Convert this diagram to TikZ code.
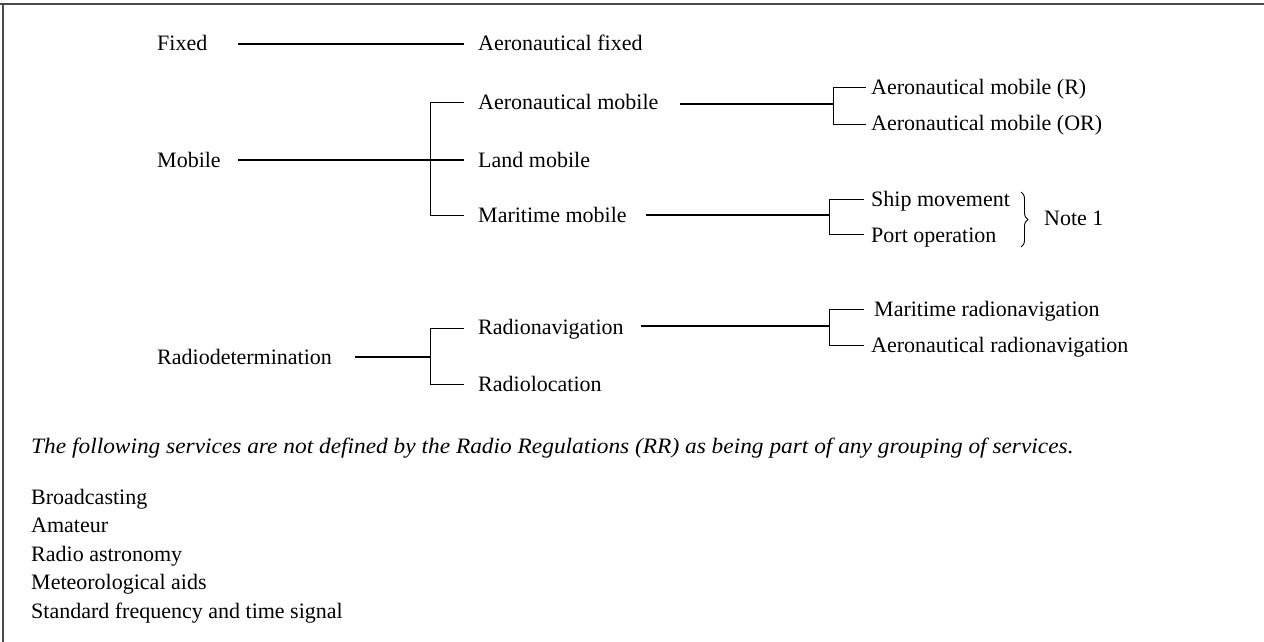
\documentclass[tikz,border=0pt]{standalone}
\usepackage{fontspec}
\setmainfont{Liberation Serif}
\newfontfamily\remarkfont{Liberation Serif}[FakeStretch=1.062]
\usetikzlibrary{decorations.pathreplacing}
\begin{document}
\begin{tikzpicture}[x=1pt,y=-1pt,
  lbl/.style={anchor=base west, inner sep=0pt, font=\fontsize{22}{26}\selectfont},
  mainline/.style={line width=1.6pt},
  brk/.style={line width=0.9pt},
  frameline/.style={line width=2pt, black!70}]
\useasboundingbox (0,0) rectangle (1264,642);
% frame
\coordinate (ftl) at (3,4);
\coordinate (ftr) at (1264,4);
\coordinate (fbl) at (3,642);
\draw[frameline] (0,4) -- (ftr);
\draw[frameline, line width=1.5pt] (ftl) -- (fbl);
% labels
\node[lbl] (fixed) at (157,51) {Fixed};
\node[lbl] (aerofixed) at (478,51) {Aeronautical fixed};
\node[lbl] (mobile) at (157,167) {Mobile};
\node[lbl] (aeromob) at (478,109) {Aeronautical mobile};
\node[lbl] (landmob) at (478,167) {Land mobile};
\node[lbl] (marmob) at (478,222) {Maritime mobile};
\node[lbl] (amr) at (871,94) {Aeronautical mobile (R)};
\node[lbl] (amor) at (871,130) {Aeronautical mobile (OR)};
\node[lbl] (ship) at (871,206) {Ship movement};
\node[lbl] (port) at (871,242) {Port operation};
\node[lbl] (note) at (1044,225) {Note 1};
\node[lbl] (radiodet) at (157,364) {Radiodetermination};
\node[lbl] (radionav) at (478,334) {Radionavigation};
\node[lbl] (radioloc) at (478,391) {Radiolocation};
\node[lbl] (marrn) at (874,316) {Maritime radionavigation};
\node[lbl] (aerorn) at (871,352) {Aeronautical radionavigation};
\node[lbl, font=\fontsize{22}{26}\remarkfont\itshape] (remark) at (31,453) {The following services are not defined by the Radio Regulations (RR) as being part of any grouping of services.};
\node[lbl] (l1) at (31,504) {Broadcasting};
\node[lbl] (l2) at (31,532.5) {Amateur};
\node[lbl] (l3) at (31,561) {Radio astronomy};
\node[lbl] (l4) at (31,589.5) {Meteorological aids};
\node[lbl] (l5) at (31,618) {Standard frequency and time signal};
% connector coordinates
\coordinate (fx1) at (238,44);   \coordinate (fx2) at (464,44);
\coordinate (mb1) at (238,160);  \coordinate (mb2) at (464,160);
\coordinate (mbt) at (430,102.5); \coordinate (mbb) at (430,215);
\coordinate (mbt2) at (464,102.5); \coordinate (mbb2) at (464,215);
\coordinate (am1) at (680,104);  \coordinate (am2) at (833,104);
\coordinate (amt) at (833,87);   \coordinate (amb) at (833,124);
\coordinate (amt2) at (866,87);  \coordinate (amb2) at (866,124);
\coordinate (mm1) at (646,215);  \coordinate (mm2) at (829,215);
\coordinate (mmt) at (829,199);  \coordinate (mmb) at (829,234);
\coordinate (mmt2) at (864,199); \coordinate (mmb2) at (864,234);
\coordinate (rd1) at (355,357);  \coordinate (rd2) at (430,357);
\coordinate (rdt) at (430,328);  \coordinate (rdb) at (430,384);
\coordinate (rdt2) at (464,328); \coordinate (rdb2) at (464,384);
\coordinate (rn1) at (641,326);  \coordinate (rn2) at (829,326);
\coordinate (rnt) at (829,309);  \coordinate (rnb) at (829,345);
\coordinate (rnt2) at (864,309); \coordinate (rnb2) at (864,345);
\coordinate (brt) at (1021,192); \coordinate (brb) at (1021,247);
% connectors
\draw[mainline] (fx1) -- (fx2);
\draw[mainline] (mb1) -- (mb2);
\draw[brk] (mbt2) -- (mbt) -- (mbb) -- (mbb2);
\draw[mainline] (am1) -- (am2);
\draw[brk] (amt2) -- (amt) -- (amb) -- (amb2);
\draw[mainline] (mm1) -- (mm2);
\draw[brk] (mmt2) -- (mmt) -- (mmb) -- (mmb2);
\draw[mainline] (rd1) -- (rd2);
\draw[brk] (rdt2) -- (rdt) -- (rdb) -- (rdb2);
\draw[mainline] (rn1) -- (rn2);
\draw[brk] (rnt2) -- (rnt) -- (rnb) -- (rnb2);
\draw[brk, decorate, decoration={brace, amplitude=7pt}] (brt) -- (brb);
\end{tikzpicture}
\end{document}
